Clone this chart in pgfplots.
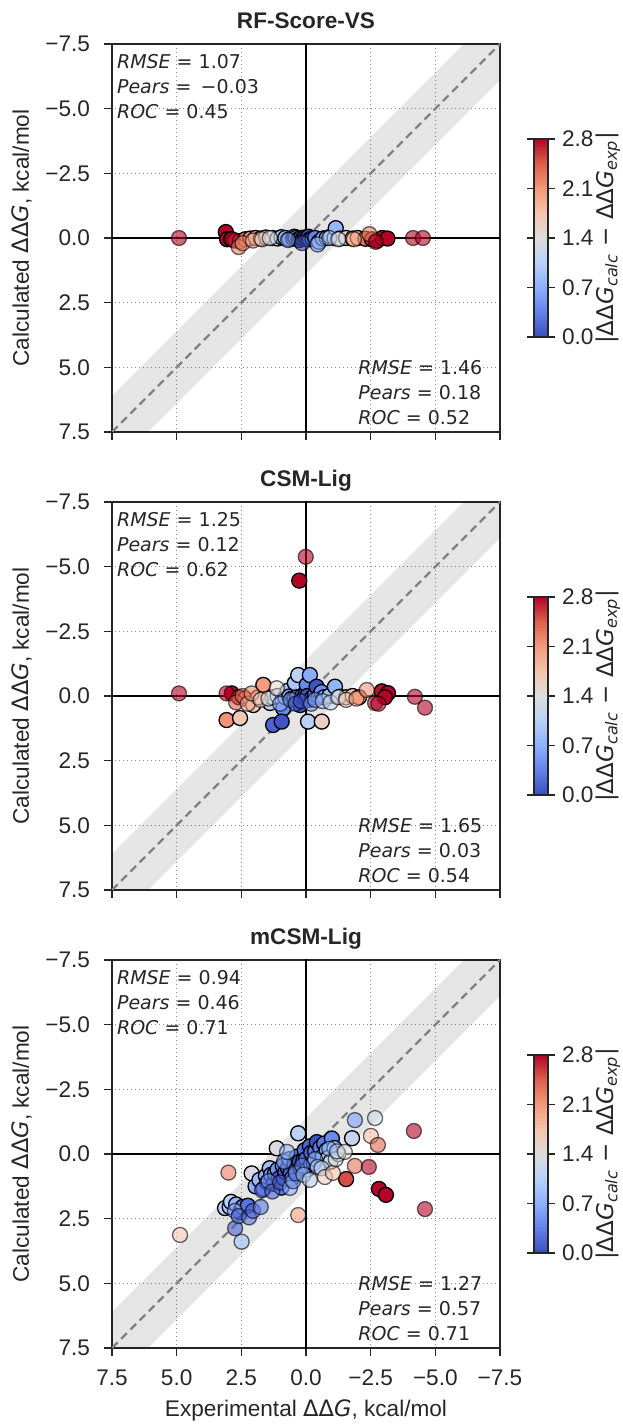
\documentclass[border=0pt]{standalone}
\usepackage{fontspec}
\setmainfont{Liberation Sans}
\newfontfamily\djv{DejaVu Sans}
\usepackage{pgfplots}
\pgfplotsset{compat=1.18}
\usepackage{pgfplotstable}

\definecolor{txt}{RGB}{38,38,38}

% coolwarm colour map
\pgfplotsset{
  colormap={coolwarm}{rgb255=(59,76,192) rgb255=(98,130,234) rgb255=(141,176,254)
    rgb255=(184,208,249) rgb255=(221,221,221) rgb255=(245,196,173)
    rgb255=(244,154,123) rgb255=(222,96,77) rgb255=(180,4,38)},
}

% ---------- RF-Score-VS ----------
\pgfplotstableread{
x y
3.10 -0.23
3.05 0.05
2.90 0.05
2.75 0.10
2.55 0.12
2.35 0.05
2.15 0.02
1.95 0.00
1.75 0.02
1.55 -0.02
1.30 0.00
1.10 0.02
0.95 -0.03
0.80 0.00
0.65 0.05
0.50 0.02
0.45 -0.05
0.40 0.00
0.30 0.05
0.25 0.08
0.20 0.00
0.12 0.03
0.05 -0.02
0.00 0.05
-0.05 0.00
-0.10 -0.05
-0.15 0.05
-0.25 0.02
-0.35 0.00
-0.50 0.15
-0.65 0.02
-0.80 0.00
-0.95 -0.05
-1.10 0.00
-1.15 -0.38
-1.30 0.02
-1.55 0.00
-1.80 0.02
-2.00 0.00
-2.30 0.03
-2.55 0.05
-2.75 0.10
-2.95 0.00
-3.15 0.02
}\rfA
\pgfplotstableread{
x y
4.91 0.00
2.85 0.05
2.60 0.35
2.45 0.20
2.05 0.10
1.70 0.05
1.40 0.00
0.70 0.08
0.15 0.20
-0.45 0.25
-0.90 0.00
-1.25 0.05
-1.85 0.05
-2.45 -0.15
-2.70 0.15
-4.14 0.00
-4.52 0.00
}\rfB

% ---------- CSM-Lig ----------
\pgfplotstableread{
x y
2.87 -0.10
2.60 0.05
2.35 0.10
2.04 0.35
1.85 0.05
1.65 -0.43
1.39 0.27
1.30 0.05
1.10 0.00
0.88 0.48
0.80 0.05
0.70 -0.20
0.65 0.02
0.55 0.10
0.45 0.10
0.43 -0.50
0.35 0.05
0.30 -0.81
0.23 0.35
0.15 0.00
0.05 0.05
0.00 -0.10
-0.03 -0.43
-0.10 0.15
-0.15 -0.81
-0.05 0.00
-0.25 0.05
-0.35 -0.05
-0.41 -0.36
-0.50 0.02
-0.60 -0.15
-0.70 0.05
-0.90 0.00
-1.12 -0.36
-1.30 0.03
-1.55 0.05
-1.80 0.00
-2.05 0.05
-2.93 -0.18
-3.17 -0.11
-3.05 0.05
3.07 0.93
2.55 0.85
1.27 1.12
0.94 0.99
-0.08 0.99
-0.61 0.99
0.26 -4.46
}\csmA
\pgfplotstableread{
x y
4.91 -0.10
3.07 -0.10
2.70 0.25
2.45 0.00
2.25 0.30
2.10 -0.10
1.75 0.15
1.45 0.10
1.13 -0.30
1.00 0.30
0.60 0.15
0.40 0.30
0.20 0.20
-0.20 0.30
-0.35 0.15
-0.65 0.20
-0.95 0.25
-1.25 0.05
-1.55 0.15
-1.95 0.10
-2.35 -0.23
-2.67 0.27
-2.80 0.30
0.01 -5.38
-4.21 0.03
-4.60 0.45
}\csmB

% ---------- mCSM-Lig ----------
\pgfplotstableread{
x y
3.13 2.09
2.95 2.05
2.90 1.85
2.70 1.95
2.55 2.25
2.45 2.05
2.25 2.00
2.10 0.75
1.95 1.25
1.80 1.00
1.65 1.35
1.55 0.85
1.50 1.10
1.40 0.55
1.35 0.80
1.25 1.15
1.20 0.75
1.13 -0.22
1.10 0.60
1.05 0.95
0.95 1.30
0.90 0.45
0.85 0.95
0.80 0.70
0.70 0.55
0.65 0.20
0.60 0.75
0.55 0.95
0.45 0.40
0.40 0.65
0.35 0.10
0.30 -0.80
0.25 0.30
0.20 0.55
0.10 0.25
0.05 -0.15
0.00 0.20
-0.05 0.60
-0.15 -0.30
-0.20 -0.05
-0.20 0.40
-0.30 0.35
-0.35 -0.10
-0.42 -0.46
-0.55 -0.25
-0.65 0.10
-0.70 -0.40
-0.80 -0.15
-0.85 0.15
-0.95 0.30
-1.00 -0.60
-1.10 -0.23
-1.25 0.00
-1.55 0.97
-1.78 -0.61
-2.82 1.35
-3.09 1.58
}\mcsmA
\pgfplotstableread{
x y
4.87 3.13
3.00 0.72
2.75 2.20
2.74 2.87
2.49 3.39
2.60 2.40
2.20 2.45
2.05 2.20
1.75 2.05
1.70 1.40
1.45 1.05
1.30 1.45
1.00 1.10
0.85 0.30
0.62 1.31
0.73 -0.08
0.50 1.05
0.40 0.75
0.30 2.36
0.15 0.45
0.10 0.80
-0.15 1.00
-0.35 0.20
-0.45 0.50
-0.60 0.55
-0.73 0.89
-0.90 -0.20
-1.04 0.73
-1.15 0.20
-1.20 -0.10
-1.50 -0.08
-1.89 -1.31
-2.67 -1.39
-2.51 -0.70
-2.78 -0.35
-1.89 0.46
-2.43 0.50
-4.17 -0.89
-4.60 2.13
}\mcsmB

\pgfplotsset{
  panel/.style={
    scale only axis, width=194pt, height=194pt,
    xmin=-7.5, xmax=7.5, ymin=-7.5, ymax=7.5,
    x dir=reverse, y dir=reverse,
    xtick={-7.5,-5,-2.5,0,2.5,5,7.5}, ytick={-7.5,-5,-2.5,0,2.5,5,7.5},
    yticklabels={−7.5,−5.0,−2.5,0.0,2.5,5.0,7.5},
    xtick pos=bottom, ytick pos=left,
    tick align=outside, major tick length=4pt,
    tick style={black!85, line width=0.6pt},
    axis line style={black!85, line width=0.7pt},
    grid=major,
    grid style={black!45, line width=0.5pt, dash pattern=on 0.6pt off 1.4pt},
    tick label style={font=\fontsize{11.3}{13}\selectfont, text=txt},
    xticklabel style={yshift=-3.5pt},
    yticklabel style={xshift=-3.5pt},
    ylabel={Calculated {\djv ΔΔ\textit{G}}, kcal/mol},
    ylabel style={at={(axis description cs:-0.232,0.5)}, anchor=center,
      font=\fontsize{11.3}{13}\selectfont, text=txt},
    xlabel style={at={(axis description cs:0.5,-0.16)}, anchor=center,
      font=\fontsize{11.3}{13}\selectfont, text=txt},
    colormap name=coolwarm,
    point meta min=0, point meta max=2.8,
    colorbar,
    colorbar style={
      at={(parent axis.east)}, anchor=west, xshift=8.5pt,
      scale only axis, width=7pt, height=99pt,
      ytick={0,0.7,1.4,2.1,2.8}, yticklabels={0.0,0.7,1.4,2.1,2.8},
      yticklabel pos=right,
      tick align=outside, major tick length=3.5pt,
      tick style={black!85, line width=0.6pt},
      axis line style={black!85, line width=0.7pt},
      tick label style={font=\fontsize{11.3}{13}\selectfont, text=txt},
    },
  },
  opaquepts/.style={scatter, only marks, mark=*, mark size=3.75pt,
    scatter/use mapped color={draw=black, fill=mapped color, line width=0.65pt},
    point meta={min(abs(\thisrow{y}-\thisrow{x}),2.8)}},
  fadedpts/.style={scatter, only marks, mark=*, mark size=3.75pt,
    scatter/use mapped color={draw=black, fill=mapped color, line width=0.65pt,
      draw opacity=0.6, fill opacity=0.6},
    point meta={min(abs(\thisrow{y}-\thisrow{x}),2.8)}},
}

% band of +/-1.4 kcal/mol around the identity line, the identity line and the zero lines
\newcommand{\guides}{%
  \addplot[draw=none, fill=black, fill opacity=0.1] coordinates
    {(-8.5,-9.9) (8.5,7.1) (8.5,9.9) (-8.5,-7.1)} -- cycle;
  \addplot[black!50, line width=1.1pt, dash pattern=on 4pt off 2.5pt] coordinates {(-8,-8) (8,8)};
  \addplot[black, line width=0.9pt] coordinates {(-8,0) (8,0)};
  \addplot[black, line width=0.9pt] coordinates {(0,-8) (0,8)};
}
\newcommand{\stats}[6]{%
  \node[anchor=north west, inner sep=0pt, align=left, text=txt,
    font=\djv\fontsize{9.5}{12.5}\selectfont]
    at (axis description cs:0.012,0.975)
    {\textit{RMSE} = #1\\\textit{Pears} = #2\\\textit{ROC} = #3};
  \node[anchor=south west, inner sep=0pt, align=left, text=txt,
    font=\djv\fontsize{9.5}{12.5}\selectfont]
    at (axis description cs:0.634,0.018)
    {\textit{RMSE} = #4\\\textit{Pears} = #5\\\textit{ROC} = #6};
}
% colour-bar label and panel title, placed from the named axis
\newcommand{\decor}[2]{%
  \node[rotate=90, font=\djv\fontsize{11.5}{13}\selectfont, text=txt]
    at ([xshift=54pt]#1.east)
    {|ΔΔ\textit{G}\textsubscript{\textit{calc}} − ΔΔ\textit{G}\textsubscript{\textit{exp}}|};
  \node[anchor=base, inner sep=0pt, font=\bfseries\fontsize{11.3}{13}\selectfont, text=txt]
    at ([yshift=7.5pt]#1.north) {#2};
}

\begin{document}
\begin{tikzpicture}
\path[use as bounding box] (0,0) rectangle (311pt,712pt);

\begin{axis}[panel, name=p1, at={(56pt,496pt)}, anchor=south west, xticklabels={}]
  \guides
  \addplot[opaquepts] table {\rfA};
  \addplot[fadedpts] table {\rfB};
  \stats{1.07}{\,−0.03}{0.45}{1.46}{0.18}{0.52}
\end{axis}
\decor{p1}{RF-Score-VS}

\begin{axis}[panel, name=p2, at={(56pt,267pt)}, anchor=south west, xticklabels={}]
  \guides
  \addplot[opaquepts] table {\csmA};
  \addplot[fadedpts] table {\csmB};
  \stats{1.25}{0.12}{0.62}{1.65}{0.03}{0.54}
\end{axis}
\decor{p2}{CSM-Lig}

\begin{axis}[panel, name=p3, at={(56pt,38pt)}, anchor=south west,
  xticklabels={−7.5,−5.0,−2.5,0.0,2.5,5.0,7.5},
  xlabel={Experimental {\djv ΔΔ\textit{G}}, kcal/mol}]
  \guides
  \addplot[opaquepts] table {\mcsmA};
  \addplot[fadedpts] table {\mcsmB};
  \stats{0.94}{0.46}{0.71}{1.27}{0.57}{0.71}
\end{axis}
\decor{p3}{mCSM-Lig}
\end{tikzpicture}
\end{document}
